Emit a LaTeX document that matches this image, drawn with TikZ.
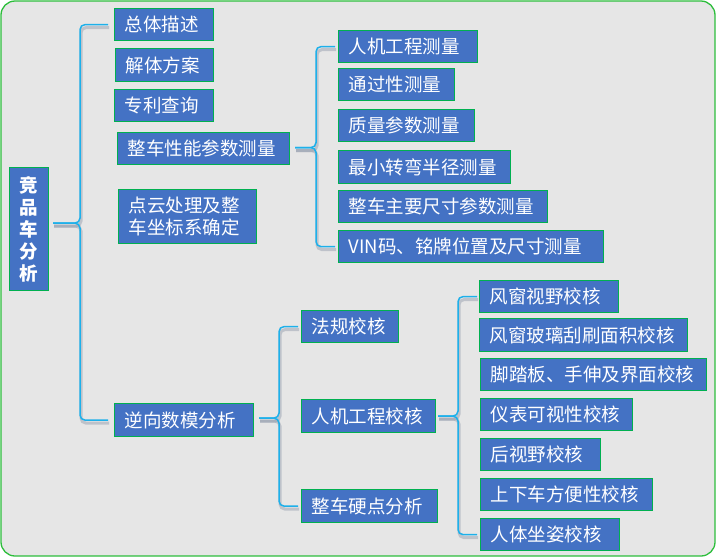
\documentclass[tikz,border=0pt]{standalone}
\usepackage{fontspec}
\newfontfamily\cjk{Noto Sans CJK SC}
\usetikzlibrary{calc}
\definecolor{boxblue}{HTML}{4472C4}
\definecolor{boxgreen}{HTML}{00B050}
\definecolor{frame}{HTML}{2DBE3C}
\definecolor{bg}{HTML}{E6E6E6}
\definecolor{brblue}{HTML}{1EB0EA}
\definecolor{brgray}{HTML}{8E98AA}
\tikzset{
  bx/.style={draw=boxgreen, line width=1.2pt, fill=boxblue, text=white,
    font=\cjk\fontsize{18.5}{22}\selectfont, inner xsep=10pt, inner ysep=1pt,
    align=left, anchor=north west},
  rootbx/.style={draw=boxgreen, line width=1.2pt, fill=boxblue, text=white,
    font=\cjk\bfseries\fontsize{18.5}{22}\selectfont, inner sep=0pt,
    align=center, anchor=north west},
  brline/.style={draw=brblue, line width=1.5pt, rounded corners=5pt},
  brshadow/.style={draw=brgray, line width=3pt, rounded corners=5pt, opacity=0.45}
}
\newcommand\mybrace[4]{%
  \draw[brshadow] ($(#1)+(1,3)$) -- ($(#2)+(1,3)$) -- ($(#3)+(1,3)$) -- ($(#4)+(1,3)$);
  \draw[brline] (#1) -- (#2) -- (#3) -- (#4);}
\begin{document}
\begin{tikzpicture}[x=1pt,y=-1pt]
\useasboundingbox (0,0) rectangle (716,558);
\draw[draw=frame, line width=1.3pt, fill=bg, rounded corners=14pt] (1,1) rectangle (715,556);

% root
\node[rootbx, minimum width=39pt, minimum height=123pt] (root) at (9,167) {竞\\品\\车\\分\\析};

% level 1
\node[bx, text width=79pt, minimum height=32pt] (n1) at (114,8) {总体描述};
\node[bx, text width=78pt, minimum height=33pt] (n2) at (115,48) {解体方案};
\node[bx, text width=79pt, minimum height=32pt] (n3) at (114,89) {专利查询};
\node[bx, text width=152pt, minimum height=32pt] (n4) at (117,132) {整车性能参数测量};
\node[bx, text width=118pt, minimum height=54pt] (n5) at (118,189) {点云处理及整\\车坐标系确定};
\node[bx, text width=119pt, minimum height=33pt] (n6) at (114,403) {逆向数模分析};

% level 2 under n4
\node[bx, text width=119pt, minimum height=32pt] (m1) at (338,30) {人机工程测量};
\node[bx, text width=96pt, minimum height=32pt] (m2) at (338,68) {通过性测量};
\node[bx, text width=116pt, minimum height=32pt] (m3) at (338,109) {质量参数测量};
\node[bx, text width=152pt, minimum height=33pt] (m4) at (338,150) {最小转弯半径测量};
\node[bx, text width=189pt, minimum height=32pt] (m5) at (338,190) {整车主要尺寸参数测量};
\node[bx, text width=245pt, minimum height=32pt] (m6) at (338,230) {VIN码、铭牌位置及尺寸测量};

% level 2 under n6
\node[bx, text width=77pt, minimum height=32pt] (r1) at (301,310) {法规校核};
\node[bx, text width=114pt, minimum height=33pt] (r2) at (301,399) {人机工程校核};
\node[bx, text width=116pt, minimum height=33pt] (r3) at (301,489) {整车硬点分析};

% level 3 under r2
\node[bx, text width=119pt, minimum height=32pt] (s1) at (479,280) {风窗视野校核};
\node[bx, text width=188pt, minimum height=33pt] (s2) at (479,318) {风窗玻璃刮刷面积校核};
\node[bx, text width=206pt, minimum height=32pt] (s3) at (480,358) {脚踏板、手伸及界面校核};
\node[bx, text width=132pt, minimum height=32pt] (s4) at (480,398) {仪表可视性校核};
\node[bx, text width=100pt, minimum height=32pt] (s5) at (480,438) {后视野校核};
\node[bx, text width=152pt, minimum height=32pt] (s6) at (480,478) {上下车方便性校核};
\node[bx, text width=119pt, minimum height=32pt] (s7) at (480,518) {人体坐姿校核};

% brace 1
\coordinate (t1) at ($(root.east)+(4,-6)$);
\coordinate (x1) at (80,0);
\coordinate (e1a) at ($(n1.west)+(-6,0)$);
\coordinate (e1b) at ($(n6.west)+(-6,0)$);
\coordinate (c1a) at (x1 |- e1a);
\coordinate (c1b) at (x1 |- e1b);
\coordinate (c1m) at (x1 |- t1);
\mybrace{e1a}{c1a}{c1m}{t1}
\mybrace{e1b}{c1b}{c1m}{t1}

% brace 2
\coordinate (t2) at ($(n4.east)+(5,-1)$);
\coordinate (x2) at (316,0);
\coordinate (e2a) at ($(m1.west)+(-3,0)$);
\coordinate (e2b) at ($(m6.west)+(-3,0)$);
\coordinate (c2a) at (x2 |- e2a);
\coordinate (c2b) at (x2 |- e2b);
\coordinate (c2m) at (x2 |- t2);
\mybrace{e2a}{c2a}{c2m}{t2}
\mybrace{e2b}{c2b}{c2m}{t2}

% brace 3
\coordinate (t3) at ($(n6.east)+(5,-2)$);
\coordinate (x3) at (279,0);
\coordinate (e3a) at ($(r1.west)+(-3,0)$);
\coordinate (e3b) at ($(r3.west)+(-3,0)$);
\coordinate (c3a) at (x3 |- e3a);
\coordinate (c3b) at (x3 |- e3b);
\coordinate (c3m) at (x3 |- t3);
\mybrace{e3a}{c3a}{c3m}{t3}
\mybrace{e3b}{c3b}{c3m}{t3}

% brace 4
\coordinate (t4) at ($(r2.east)+(2,0)$);
\coordinate (x4) at (458,0);
\coordinate (e4a) at ($(s1.west)+(-2,0)$);
\coordinate (e4b) at ($(s7.west)+(-3,0)$);
\coordinate (c4a) at (x4 |- e4a);
\coordinate (c4b) at (x4 |- e4b);
\coordinate (c4m) at (x4 |- t4);
\mybrace{e4a}{c4a}{c4m}{t4}
\mybrace{e4b}{c4b}{c4m}{t4}
\end{tikzpicture}
\end{document}
